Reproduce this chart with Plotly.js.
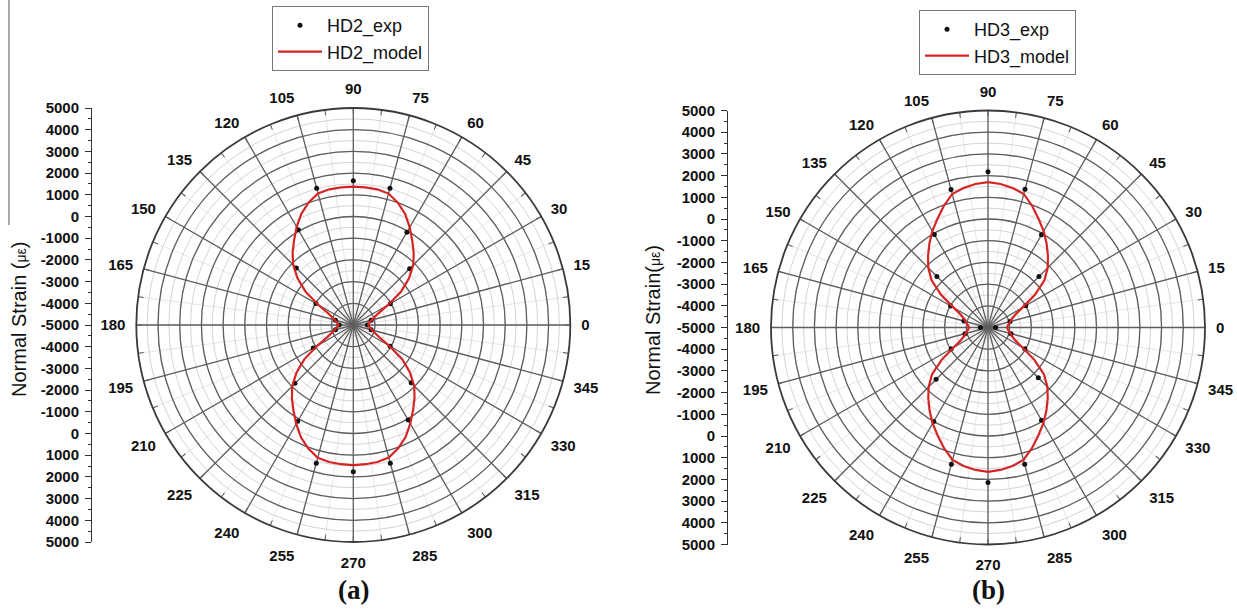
<!DOCTYPE html>
<html>
<head>
<meta charset="utf-8">
<script src="https://cdn.plot.ly/plotly-3.0.1.min.js"></script>
<style>html,body{margin:0;padding:0;background:#fff;}#chart{width:1237px;height:614px;}</style>
</head>
<body>
<div id="chart"></div>
<script>
// ---- data ----
const expTheta = [0,15,30,45,60,75,90,105,120,135,150,165,180,195,210,225,240,255,270,285,300,315,330,345];
const hd2Exp = [-4350,-4150,-3030,-1330,-60,1530,1650,1520,70,-1290,-3010,-4150,-4350,-4150,-2870,-1200,120,1590,1760,1590,60,-1230,-3040,-4150];
const hd3Exp = [-4650,-3950,-2990,-1680,-70,1590,2180,1580,-50,-1670,-3010,-3850,-4650,-3900,-3040,-1620,0,1520,2140,1530,-70,-1720,-3040,-3900];

const modelTheta = [0,5,10,15,20,25,30,35,40,45,50,55,60,65,70,75,80,85,90,
  95,100,105,110,115,120,125,130,135,140,145,150,155,160,165,170,175,180,
  185,190,195,200,205,210,215,220,225,230,235,240,245,250,255,260,265,270,
  275,280,285,290,295,300,305,310,315,320,325,330,335,340,345,350,355,360];
const hd2Model = [-4320,-4280,-4210,-4130,-3970,-3730,-3150,-2310,-1650,-1090,-670,-260,200,650,1000,1270,1350,1370,1380,
  1370,1350,1280,1010,660,220,-240,-650,-1080,-1640,-2300,-3130,-3720,-3960,-4120,-4210,-4280,-4320,
  -4280,-4200,-4110,-3940,-3680,-3080,-2240,-1580,-1020,-600,-190,260,710,1060,1330,1410,1440,1460,
  1440,1410,1320,1050,700,250,-200,-610,-1030,-1590,-2250,-3090,-3690,-3950,-4110,-4200,-4280,-4320];
const hd3Model = [-4120,-4090,-4020,-3930,-3820,-3620,-3170,-2350,-1600,-1110,-700,-290,130,520,960,1370,1530,1640,1700,
  1640,1530,1370,960,520,130,-290,-700,-1110,-1600,-2350,-3170,-3620,-3820,-3930,-4020,-4090,-4120,
  -4090,-4020,-3930,-3820,-3620,-3180,-2380,-1630,-1130,-720,-310,100,490,920,1320,1480,1590,1650,
  1590,1480,1320,920,490,100,-310,-720,-1130,-1630,-2380,-3180,-3620,-3820,-3930,-4020,-4090,-4120];

const strainPos = [-10000,-9000,-8000,-7000,-6000,-5000,-4000,-3000,-2000,-1000,0,1000,2000,3000,4000,5000,6000,7000,8000,9000,10000];
const strainLabels = ['5000','4000','3000','2000','1000','0','-1000','-2000','-3000','-4000','-5000','-4000','-3000','-2000','-1000','0','1000','2000','3000','4000','5000'];
const angleTicks = [0,15,30,45,60,75,90,105,120,135,150,165,180,195,210,225,240,255,270,285,300,315,330,345];
const rRange = [-5000, 5000];

// ---- styling ----
const SANS = 'Liberation Sans, Arial, sans-serif';
const SERIF = 'Liberation Serif, Times New Roman, serif';
const RED = '#d42424';

const W = 1237, H = 614;
function dom(cx, cy, R) {
  return { x: [(cx - R) / W, (cx + R) / W], y: [(H - (cy + R)) / H, (H - (cy - R)) / H] };
}
const leftDom = dom(353.3, 325, 217);
const rightDom = dom(988, 327.5, 217);

function minorPolar(d) {
  return {
    domain: d, bgcolor: '#ffffff',
    radialaxis: { range: rRange, dtick: 500, tick0: 0, gridcolor: '#d4d4d4', gridwidth: 1,
      showticklabels: false, showline: false, ticks: '' },
    angularaxis: { dtick: 7.5, tick0: 0, gridcolor: '#e6e6e6', gridwidth: 1, showline: false,
      ticks: 'inside', ticklen: 5, tickcolor: '#555', showticklabels: false }
  };
}
function majorPolar(d) {
  return {
    domain: d, bgcolor: 'rgba(0,0,0,0)',
    radialaxis: { range: rRange, dtick: 1000, tick0: 0, gridcolor: '#5e5e5e', gridwidth: 1.3,
      showticklabels: false, showline: false, ticks: '' },
    angularaxis: { tickmode: 'array', tickvals: angleTicks, ticktext: angleTicks.map(String),
      gridcolor: '#5e5e5e', gridwidth: 1.3, showline: true, linecolor: '#3a3a3a', linewidth: 1.8,
      ticks: 'outside', ticklen: 7, tickcolor: 'rgba(0,0,0,0)',
      tickfont: { family: SANS, size: 15, weight: 'bold', color: '#111' } }
  };
}
function strainAxis(d, pos) {
  return {
    domain: d.y, anchor: 'free', position: pos, range: [-10000, 10000],
    tickmode: 'array', tickvals: strainPos, ticktext: strainLabels,
    showgrid: false, zeroline: false, showline: true, linecolor: '#333', linewidth: 1,
    ticks: 'outside', ticklen: 6, tickcolor: '#333', tickwidth: 1, ticklabelstandoff: 3,
    minor: { tickmode: 'linear', tick0: 0, dtick: 500, ticks: 'outside', ticklen: 3, tickcolor: '#333', showgrid: false },
    tickfont: { family: SANS, size: 15, weight: 'bold', color: '#111' },
    fixedrange: true
  };
}

const ghost = (sub) => ({ type: 'scatterpolar', subplot: sub, r: [rRange[0]], theta: [0], mode: 'markers',
  marker: { opacity: 0 }, showlegend: false, hoverinfo: 'skip' });

const traces = [
  ghost('polar'), ghost('polar3'),
  { type: 'scatter', x: [0.5], y: [0], xaxis: 'x', yaxis: 'y', mode: 'markers', marker: { opacity: 0 }, showlegend: false, hoverinfo: 'skip' },
  { type: 'scatter', x: [0.5], y: [0], xaxis: 'x2', yaxis: 'y2', mode: 'markers', marker: { opacity: 0 }, showlegend: false, hoverinfo: 'skip' },
  { type: 'scatterpolar', subplot: 'polar2', name: 'HD2_exp', r: hd2Exp, theta: expTheta, mode: 'markers',
    marker: { color: '#111', size: 5 }, legend: 'legend' },
  { type: 'scatterpolar', subplot: 'polar2', name: 'HD2_model', r: hd2Model, theta: modelTheta, mode: 'lines',
    line: { color: RED, width: 2.2 }, legend: 'legend' },
  { type: 'scatterpolar', subplot: 'polar4', name: 'HD3_exp', r: hd3Exp, theta: expTheta, mode: 'markers',
    marker: { color: '#111', size: 5 }, legend: 'legend2' },
  { type: 'scatterpolar', subplot: 'polar4', name: 'HD3_model', r: hd3Model, theta: modelTheta, mode: 'lines',
    line: { color: RED, width: 2.2 }, legend: 'legend2' }
];

const legendStyle = (x, y) => ({
  x: x, y: y, xanchor: 'left', yanchor: 'top', bgcolor: '#fff', bordercolor: '#777', borderwidth: 1,
  font: { family: SANS, size: 18, color: '#111' }, itemwidth: 44, tracegroupgap: 0
});

const layout = {
  width: W, height: H, margin: { l: 0, r: 0, t: 0, b: 0 }, paper_bgcolor: '#fff', plot_bgcolor: 'rgba(0,0,0,0)',
  showlegend: true,
  polar: minorPolar(leftDom), polar2: majorPolar(leftDom),
  polar3: minorPolar(rightDom), polar4: majorPolar(rightDom),
  xaxis: { domain: [0.074, 0.076], visible: false, range: [0, 1], fixedrange: true },
  yaxis: strainAxis(leftDom, 91 / W),
  xaxis2: { domain: [0.588, 0.590], visible: false, range: [0, 1], fixedrange: true },
  yaxis2: strainAxis(rightDom, 727 / W),
  legend: legendStyle(272 / W, 1 - 6 / H),
  legend2: legendStyle(919 / W, 1 - 10 / H),
  annotations: [
    { xref: 'paper', yref: 'paper', x: 19 / W, y: 1 - 320 / H, xanchor: 'center', yanchor: 'middle', textangle: -90, showarrow: false,
      text: 'Normal Strain (<span style="font-size:14px">με</span>)', font: { family: SANS, size: 20, color: '#111' } },
    { xref: 'paper', yref: 'paper', x: 653 / W, y: 1 - 320 / H, xanchor: 'center', yanchor: 'middle', textangle: -90, showarrow: false,
      text: 'Normal Strain(<span style="font-size:14px">με</span>)', font: { family: SANS, size: 20, color: '#111' } },
    { xref: 'paper', yref: 'paper', x: 353 / W, y: 1 - 590 / H, xanchor: 'center', yanchor: 'middle', showarrow: false,
      text: '<b>(a)</b>', font: { family: SERIF, size: 27, color: '#111' } },
    { xref: 'paper', yref: 'paper', x: 988 / W, y: 1 - 590 / H, xanchor: 'center', yanchor: 'middle', showarrow: false,
      text: '<b>(b)</b>', font: { family: SERIF, size: 27, color: '#111' } }
  ],
  shapes: [
    { type: 'line', xref: 'paper', yref: 'paper', x0: 9 / W, x1: 9 / W, y0: 1, y1: 1 - 225 / H, line: { color: '#555', width: 1 } }
  ]
};

Plotly.newPlot('chart', traces, layout, { displayModeBar: false, staticPlot: true });
</script>
</body>
</html>
